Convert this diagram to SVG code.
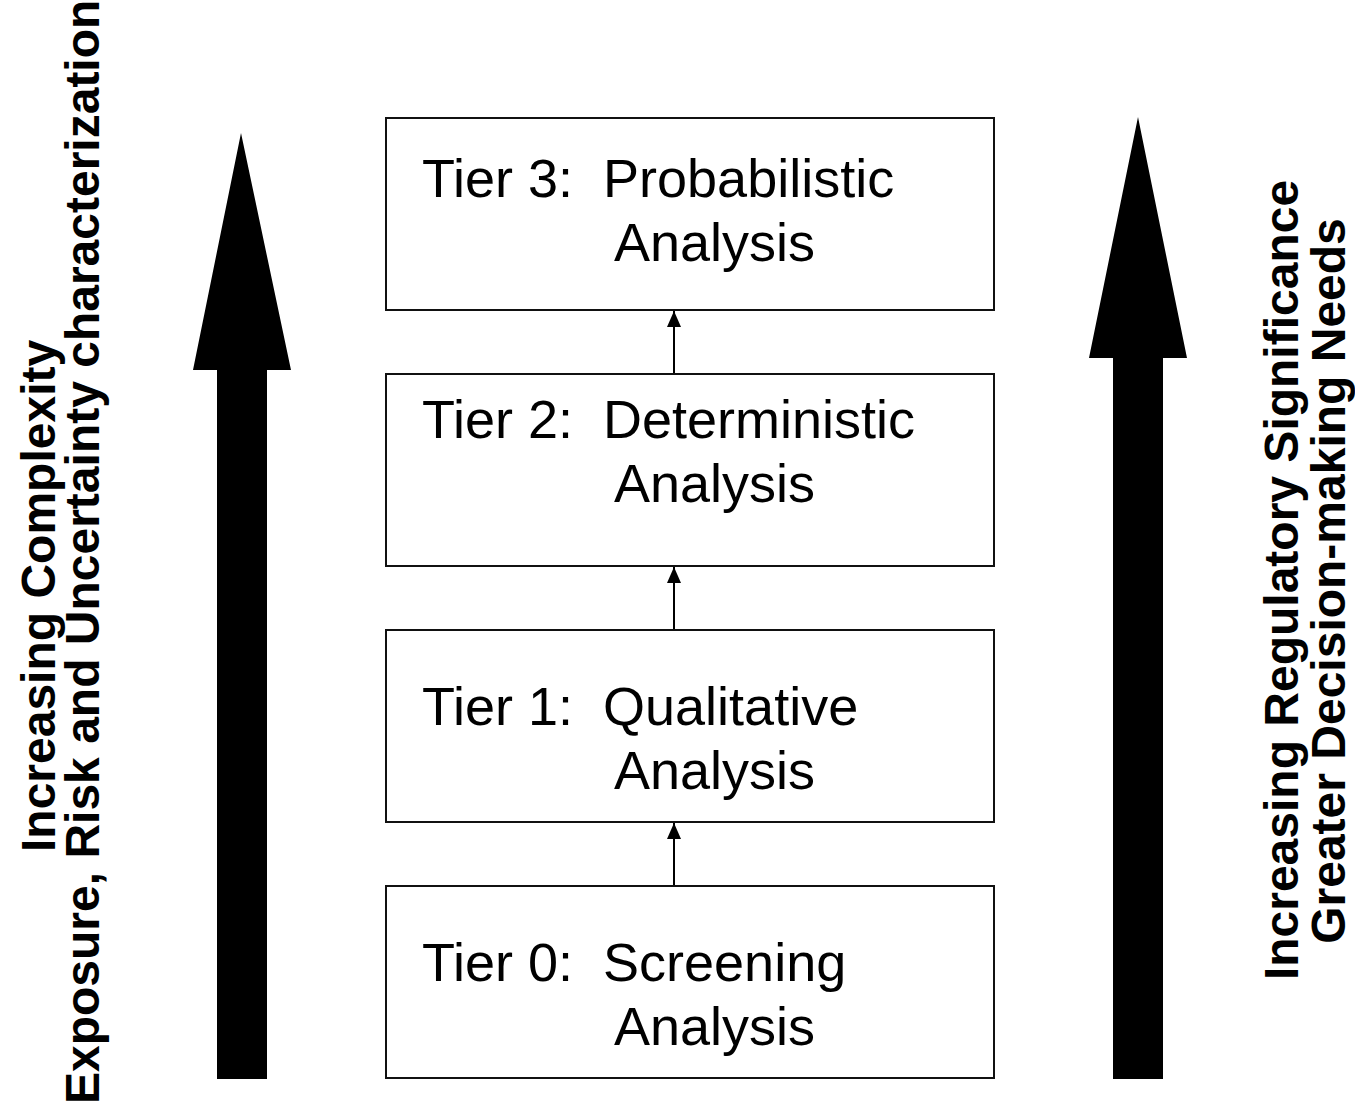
<svg xmlns="http://www.w3.org/2000/svg" width="1355" height="1112" viewBox="0 0 1355 1112">
<style>
.box{fill:#fff;stroke:#111;stroke-width:2}
.t{font-family:"Liberation Sans",Arial,sans-serif;font-size:54px;fill:#000;white-space:pre}
.s{font-family:"Liberation Sans",Arial,sans-serif;font-size:48px;font-weight:bold;fill:#000}
.c{stroke:#000;stroke-width:2;fill:none}
.big{fill:#000}
</style>
<defs>
<marker id="ah" markerUnits="userSpaceOnUse" viewBox="0 0 16 14" refX="16" refY="7" markerWidth="16" markerHeight="14" orient="auto">
<path d="M0 0 L16 7 L0 14 Z" fill="#000"/>
</marker>
</defs>
<g id="left-arrow"><path class="big" d="M241 133 L291 370 L267 370 L267 1079 L217 1079 L217 370 L193 370 Z"/></g>
<g id="right-arrow"><path class="big" d="M1138 117 L1187 358 L1163 358 L1163 1079 L1113 1079 L1113 358 L1089 358 Z"/></g>
<g id="left-label">
<text class="s" transform="translate(55,852) rotate(-90)">Increasing Complexity</text>
<text class="s" transform="translate(99,1104) rotate(-90)">Exposure, Risk and Uncertainty characterization</text>
</g>
<g id="right-label">
<text class="s" text-anchor="middle" transform="translate(1298,580) rotate(-90)">Increasing Regulatory Significance</text>
<text class="s" text-anchor="middle" transform="translate(1345,581) rotate(-90)">Greater Decision-making Needs</text>
</g>
<g id="connectors">
<line class="c" x1="674" y1="374" x2="674" y2="311" marker-end="url(#ah)"/>
<line class="c" x1="674" y1="630" x2="674" y2="567" marker-end="url(#ah)"/>
<line class="c" x1="674" y1="886" x2="674" y2="823" marker-end="url(#ah)"/>
</g>
<g id="tier3">
<rect class="box" x="386" y="118" width="608" height="192"/>
<text class="t" x="422" y="197" xml:space="preserve">Tier 3:  Probabilistic</text>
<text class="t" x="614" y="261">Analysis</text>
</g>
<g id="tier2">
<rect class="box" x="386" y="374" width="608" height="192"/>
<text class="t" x="422" y="438" xml:space="preserve">Tier 2:  Deterministic</text>
<text class="t" x="614" y="502">Analysis</text>
</g>
<g id="tier1">
<rect class="box" x="386" y="630" width="608" height="192"/>
<text class="t" x="422" y="725" xml:space="preserve">Tier 1:  Qualitative</text>
<text class="t" x="614" y="789">Analysis</text>
</g>
<g id="tier0">
<rect class="box" x="386" y="886" width="608" height="192"/>
<text class="t" x="422" y="981" xml:space="preserve">Tier 0:  Screening</text>
<text class="t" x="614" y="1045">Analysis</text>
</g>
</svg>
